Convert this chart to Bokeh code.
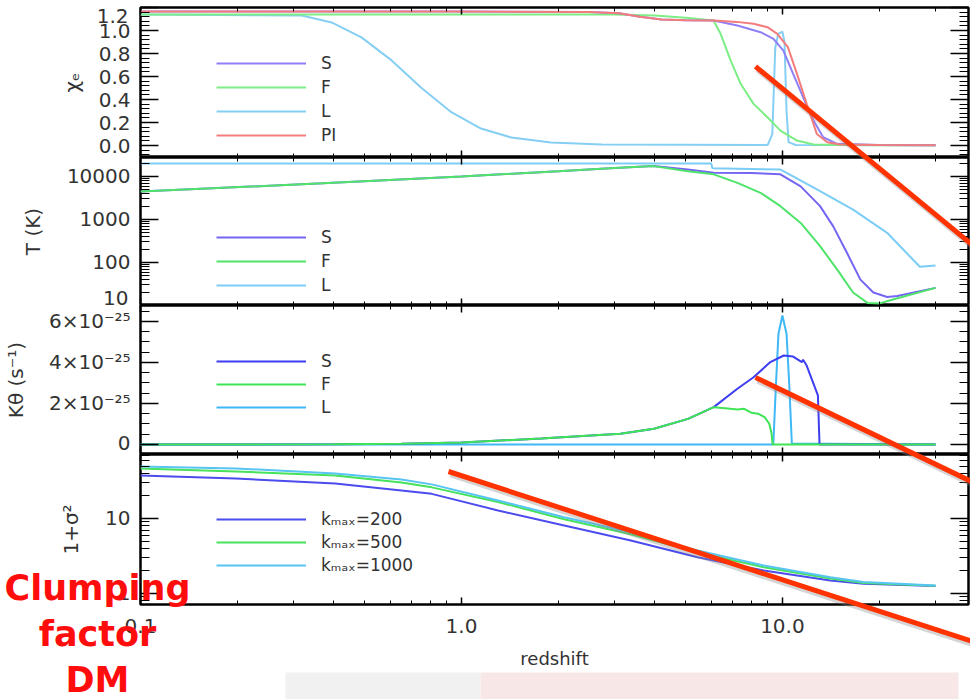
from bokeh.plotting import figure
from bokeh.layouts import column
from bokeh.models import (FixedTicker, LinearAxis, LogAxis, Legend, LegendItem, Range1d,
                          CustomJSTickFormatter, Label, GridBox)
from bokeh.embed import file_html
from bokeh.resources import INLINE

# ---------------- data ----------------
# Panel 1: ionised fraction chi_e
xe_S_z = [0.1, 1.0, 2.5, 3.1, 3.6, 4.2, 5.0, 6.1, 7.24, 8.55, 9.38, 10.07, 10.8, 11.6, 12.5, 13.4, 14.8, 20, 30]
xe_S = [1.165, 1.165, 1.16, 1.15, 1.12, 1.095, 1.09, 1.087, 1.043, 0.985, 0.928, 0.826, 0.623, 0.42, 0.217, 0.072, 0.015, 0.004, 0.003]
xe_F_z = [0.1, 1.0, 3.0, 4.0, 5.0, 6.1, 6.42, 6.9, 7.41, 8.13, 8.98, 9.86, 11.1, 12.5, 14.8, 20, 30]
xe_F = [1.14, 1.14, 1.14, 1.13, 1.11, 1.087, 0.971, 0.739, 0.537, 0.362, 0.246, 0.130, 0.043, 0.009, 0.004, 0.003, 0.003]
xe_L_z = [0.1, 0.318, 0.394, 0.488, 0.606, 0.751, 0.93, 1.15, 1.43, 1.9, 2.74, 9.0, 9.3, 9.5, 9.7, 10.0, 10.15, 10.3, 10.45, 11, 30]
xe_L = [1.14, 1.13, 1.07, 0.94, 0.74, 0.50, 0.29, 0.148, 0.07, 0.026, 0.009, 0.005, 0.1, 0.85, 0.97, 0.99, 0.9, 0.3, 0.03, 0.005, 0.003]
xe_PI_z = [0.1, 1.0, 2.5, 3.1, 3.6, 4.2, 5.0, 6.1, 7.2, 8.13, 8.98, 9.64, 10.4, 11.1, 12.0, 12.8, 13.8, 15.1, 20, 30]
xe_PI = [1.165, 1.165, 1.16, 1.15, 1.12, 1.095, 1.09, 1.087, 1.075, 1.058, 1.029, 0.971, 0.855, 0.623, 0.333, 0.101, 0.029, 0.009, 0.004, 0.003]
xe_ticks = [0.0, 0.2, 0.4, 0.6, 0.8, 1.0, 1.2]

# Panel 2: temperature T (K)
T_S_z = [0.1, 0.37, 1, 2, 3, 3.97, 5.07, 6.11, 8.0, 9.86, 11.4, 13.1, 14.4, 15.9, 17.5, 19.2, 21.2, 22.8, 30]
T_S = [4470, 6920, 10000, 13200, 15800, 17400, 14500, 12200, 12000, 11200, 5890, 2040, 692, 166, 40, 20, 15.8, 16.6, 25.7]
T_F_z = [0.1, 0.37, 1, 2, 3, 3.97, 5.07, 6.11, 7.24, 8.55, 9.86, 11.4, 13.1, 14.8, 16.6, 18.4, 20.1, 22.1, 30]
T_F = [4470, 6920, 10000, 13200, 15800, 17400, 13200, 11200, 7080, 4170, 2040, 832, 240, 69, 20, 11.5, 11.2, 13.8, 25.7]
T_L_z = [0.1, 6.0, 6.05, 9.86, 10.8, 13.1, 16.6, 21.2, 26.8, 30]
T_L = [19950, 19950, 15490, 14450, 10000, 4570, 1700, 490, 79.4, 85]
T_ticks = [10, 100, 1000, 10000]

# Panel 3: K_theta (units of 1e-25 s^-1)
K_F_z = [0.1, 0.4, 0.65, 1.0, 1.77, 3.13, 3.98, 5.08, 6.11, 6.9, 7.24, 7.6, 8.0, 8.4, 8.8, 9.1, 9.25, 9.32, 30]
K_F = [0, 0.005, 0.03, 0.1, 0.29, 0.52, 0.77, 1.25, 1.82, 1.74, 1.71, 1.74, 1.55, 1.50, 1.33, 1.01, 0.54, 0.0, 0.0]
K_S_z = [0.1, 0.4, 0.65, 1.0, 1.77, 3.13, 3.98, 5.08, 6.11, 7.24, 8.13, 9.17, 10.1, 10.8, 11.5, 11.6, 11.9, 12.9, 13.05, 30]
K_S = [0, 0.005, 0.03, 0.1, 0.29, 0.52, 0.77, 1.25, 1.82, 2.72, 3.28, 4.02, 4.34, 4.29, 4.02, 4.13, 3.85, 2.39, 0.0, 0.0]
K_L_z = [0.1, 9.3, 9.37, 9.55, 9.72, 10.0, 10.3, 10.5, 10.7, 30]
K_L = [0, 0, 0.05, 2.96, 5.40, 6.29, 5.40, 2.96, 0.05, 0]
K_ticks = [0, 2, 4, 6]

# Panel 4: clumping factor 1 + sigma^2
cl_z = [0.1, 0.198, 0.404, 0.65, 0.808, 1.3, 2.09, 3.37, 5.44, 8.75, 14.1, 17.9, 30]
cl_200 = [37.4, 34.1, 29.3, 23.6, 21.3, 12.8, 8.07, 5.09, 3.05, 2.03, 1.49, 1.35, 1.26]
cl_500 = [46.5, 42.4, 37.4, 30.2, 26.0, 16.6, 9.77, 6.17, 3.55, 2.24, 1.58, 1.38, 1.27]
cl_1000 = [49.3, 46.5, 39.8, 33.1, 28.5, 17.4, 10.4, 6.56, 3.74, 2.36, 1.65, 1.42, 1.28]
cl_ticks = [1, 10]

x_major = [0.1, 1.0, 10.0]
x_minor = [0.2, 0.3, 0.4, 0.5, 0.6, 0.7, 0.8, 0.9, 2, 3, 4, 5, 6, 7, 8, 9, 20, 30]

# ---------------- styling ----------------
FONT = "DejaVu Sans"
TXT = "#333333"
FRAME_L = 138
XR = Range1d(0.1, 38)
HIDE = CustomJSTickFormatter(code="return '';")


def make_fig(height, top, bottom, y_type, y_range):
    p = figure(width=970, height=height, x_axis_type="log", y_axis_type=y_type,
               x_range=XR, y_range=y_range, output_backend="svg", toolbar_location=None,
               min_border_left=FRAME_L, min_border_right=2, min_border_top=top,
               min_border_bottom=bottom)
    p.xgrid.visible = False
    p.ygrid.visible = False
    p.outline_line_color = "black"
    p.outline_line_width = 2.5
    p.background_fill_color = "white"
    p.border_fill_color = "white"
    return p


def tick_style(ax, major_in, minor_in):
    ax.axis_line_color = None
    ax.major_tick_in = major_in
    ax.major_tick_out = 0
    ax.minor_tick_in = minor_in
    ax.minor_tick_out = 0
    ax.major_tick_line_color = "black"
    ax.minor_tick_line_color = "black"
    ax.major_tick_line_width = 1.5


def hide_labels(ax):
    ax.formatter = HIDE
    ax.major_label_text_font_size = "0px"
    ax.major_label_standoff = 0


def frame_axes(p, y_log, yticker, yfmt, xlabels, ylabel, standoff):
    bx = p.below[0]
    bx.ticker = FixedTicker(ticks=x_major, minor_ticks=x_minor)
    tick_style(bx, 7, 4)
    if xlabels:
        bx.formatter = CustomJSTickFormatter(code="return tick.toFixed(1);")
        bx.major_label_text_font = FONT
        bx.major_label_text_font_size = "20px"
        bx.major_label_text_color = TXT
        bx.major_label_standoff = 14
    else:
        hide_labels(bx)
    top = LogAxis(ticker=FixedTicker(ticks=x_major, minor_ticks=x_minor))
    tick_style(top, 7, 4)
    hide_labels(top)
    p.add_layout(top, "above")

    ly = p.left[0]
    ly.ticker = yticker
    ly.formatter = yfmt
    tick_style(ly, 18, 9)
    ly.major_label_text_font = FONT
    ly.major_label_text_font_size = "20px"
    ly.major_label_text_color = TXT
    ly.major_label_standoff = 10
    ly.axis_label = ylabel
    ly.axis_label_text_font = FONT
    ly.axis_label_text_font_size = "20px"
    ly.axis_label_text_font_style = "normal"
    ly.axis_label_text_color = TXT
    ly.axis_label_standoff = standoff
    right = LogAxis(ticker=yticker) if y_log else LinearAxis(ticker=yticker)
    tick_style(right, 18, 9)
    hide_labels(right)
    p.add_layout(right, "right")
    return bx


def add_legend(p, pairs, loc, spacing):
    items = [LegendItem(label=lab, renderers=[r]) for lab, r in pairs]
    leg = Legend(items=items, location=loc, orientation="vertical", glyph_width=90,
                 glyph_height=20, label_height=20, spacing=spacing, padding=0, margin=0,
                 label_standoff=15, border_line_color=None, background_fill_alpha=0,
                 label_text_font=FONT, label_text_font_size="17px", label_text_color=TXT)
    p.add_layout(leg)


LW = 2
LEG_X = 76

# ---- panel 1 ----
p1 = make_fig(157, 7, 0, "linear", Range1d(-0.104, 1.2))
frame_axes(p1, False,
           FixedTicker(ticks=xe_ticks, minor_ticks=[round(-0.08 + 0.04 * i, 2) for i in range(33)]),
           CustomJSTickFormatter(code="return tick > 1.15 ? '' : tick.toFixed(1);"),
           False, "χₑ", 12)
rL1 = p1.line(xe_L_z, xe_L, line_color="#86cff4", line_width=LW)
rF1 = p1.line(xe_F_z, xe_F, line_color="#7ded86", line_width=LW)
rS1 = p1.line(xe_S_z, xe_S, line_color="#8f80f8", line_width=LW)
rP1 = p1.line(xe_PI_z, xe_PI, line_color="#f47c7c", line_width=LW)
add_legend(p1, [("S", rS1), ("F", rF1), ("L", rL1), ("PI", rP1)], (LEG_X, 12), 4)

# ---- panel 2 ----
t_minor = [m * d for d in [10, 100, 1000, 10000] for m in range(2, 10)]
p2 = make_fig(148, 0, 0, "log", Range1d(10, 27600))
frame_axes(p2, True, FixedTicker(ticks=T_ticks, minor_ticks=t_minor),
           CustomJSTickFormatter(code="return tick < 50 ? '' : tick.toFixed(0);"),
           False, "T (K)", 19)
rL2 = p2.line(T_L_z, T_L, line_color="#7ccdf6", line_width=LW)
rS2 = p2.line(T_S_z, T_S, line_color="#7466f2", line_width=LW)
rF2 = p2.line(T_F_z, T_F, line_color="#4fe36a", line_width=LW)
add_legend(p2, [("S", rS2), ("F", rF2), ("L", rL2)], (LEG_X, 10), 4)

# ---- panel 3 ----
p3 = make_fig(149, 0, 0, "linear", Range1d(-0.49, 6.78))
k_fmt = CustomJSTickFormatter(code="return tick == 0 ? '0' : tick.toFixed(0) + '×10⁻²⁵';")
frame_axes(p3, False, FixedTicker(ticks=K_ticks, minor_ticks=[0.5 * i for i in range(-1, 14)]),
           k_fmt, False, "Kθ (s⁻¹)", 18)
rL3 = p3.line(K_L_z, K_L, line_color="#3fb8f5", line_width=LW)
rS3 = p3.line(K_S_z, K_S, line_color="#3d3df2", line_width=LW)
rF3 = p3.line(K_F_z, K_F, line_color="#3fe455", line_width=LW)
add_legend(p3, [("S", rS3), ("F", rF3), ("L", rL3)], (LEG_X, 37), 3)

# ---- panel 4 ----
c_minor = [0.8, 0.9] + [float(m) for m in range(2, 10)] + [float(m * 10) for m in range(2, 8)]
p4 = make_fig(245, 0, 95, "log", Range1d(0.713, 71.3))
bx4 = frame_axes(p4, True, FixedTicker(ticks=cl_ticks, minor_ticks=c_minor),
                 CustomJSTickFormatter(code="return tick.toFixed(0);"), True, "1+σ²", 19)
bx4.axis_label = "redshift"
bx4.axis_label_text_font = FONT
bx4.axis_label_text_font_size = "18px"
bx4.axis_label_text_font_style = "normal"
bx4.axis_label_text_color = TXT
bx4.axis_label_standoff = 12
r200 = p4.line(cl_z, cl_200, line_color="#4b4bee", line_width=LW)
r500 = p4.line(cl_z, cl_500, line_color="#46e25c", line_width=LW)
r1000 = p4.line(cl_z, cl_1000, line_color="#58c4f2", line_width=LW)
add_legend(p4, [("kₘₐₓ=200", r200), ("kₘₐₓ=500", r500), ("kₘₐₓ=1000", r1000)], (LEG_X, 29), 3)

# ---- transparent overlay for the slide decorations (page-pixel coordinates) ----
ov = figure(width=970, height=699, x_range=Range1d(0, 970), y_range=Range1d(699, 0),
            output_backend="svg", toolbar_location=None, min_border=0,
            min_border_left=0, min_border_right=0, min_border_top=0, min_border_bottom=0,
            x_axis_location=None, y_axis_location=None)
ov.xgrid.visible = False
ov.ygrid.visible = False
ov.outline_line_color = None
ov.background_fill_color = None
ov.border_fill_color = None
overlay_child = ov
try:
    ov.frame_align = False
except Exception:
    overlay_child = column(ov, spacing=0)

# faint slide background shapes at the bottom
ov.quad(left=[285], right=[480], top=[672], bottom=[699], fill_color="#f1f1f1", line_color=None)
ov.quad(left=[480], right=[958], top=[672], bottom=[699], fill_color="#f8e7e7", line_color=None)

# tick labels that sit at the panel edges (shifted inside, as in the original)
for txt, y in [("1.2", 15), ("10", 297)]:
    ov.add_layout(Label(x=128, y=y, text=txt, text_align="right", text_baseline="middle",
                        text_font=FONT, text_font_size="20px", text_color=TXT))

# red annotation strokes
strokes = [((755, 66), (975, 247)), ((755, 377), (975, 483)), ((448, 471), (975, 642))]
for (x0, y0), (x1, y1) in strokes:
    ov.line([x0 + 2, x1 + 2], [y0 + 3, y1 + 3], line_color="#888888", line_alpha=0.35,
            line_width=6, line_cap="butt")
for (x0, y0), (x1, y1) in strokes:
    ov.line([x0, x1], [y0, y1], line_color="#ff3300", line_width=5, line_cap="butt")

for txt, base in [("Clumping", 587), ("factor", 633), ("DM", 679)]:
    ov.add_layout(Label(x=97, y=base, text=txt, text_align="center", text_baseline="alphabetic",
                        text_font=FONT, text_font_size="35px", text_font_style="bold",
                        text_color="#ff0d0d"))

layout = GridBox(children=[(p1, 0, 0), (p2, 1, 0), (p3, 2, 0), (p4, 3, 0),
                           (overlay_child, 0, 0, 4, 1)], spacing=0)
open("out.html", "w").write(file_html(layout, INLINE))
